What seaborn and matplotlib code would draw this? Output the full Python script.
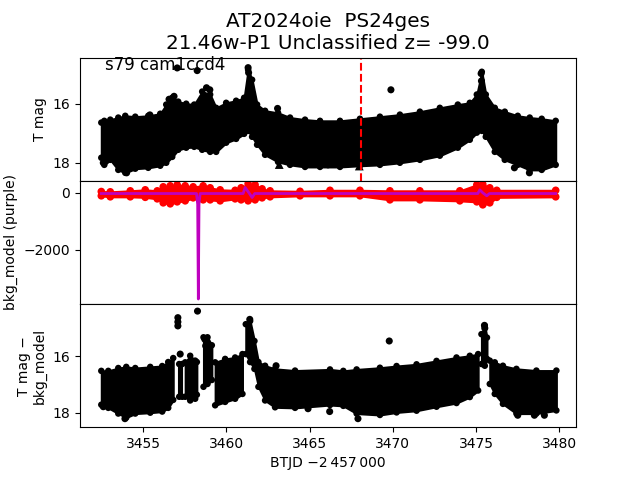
import matplotlib
matplotlib.use('Agg')
import matplotlib.pyplot as plt
import seaborn as sns

# ---- top panel: T mag envelope (time, bright edge, faint edge) ----
t_top = [3452.48, 3452.66, 3453.02, 3453.50, 3453.92, 3454.52, 3455.30, 3456.02,
         3456.38, 3456.74, 3457.10, 3457.58, 3458.06, 3458.54, 3459.02, 3459.38,
         3459.98, 3460.58, 3461.06, 3461.30, 3461.54, 3461.84, 3462.32, 3463.10,
         3463.82, 3464.72, 3465.62, 3466.82, 3468.02, 3469.22, 3470.42, 3471.62,
         3472.82, 3473.90, 3474.62, 3475.04, 3475.34, 3475.58, 3476.12, 3476.72,
         3477.50, 3478.22, 3478.94, 3479.78]
top_up = [16.64, 16.58, 16.54, 16.47, 16.41, 16.44, 16.41, 16.34,
          16.03, 15.80, 15.93, 16.00, 16.03, 15.59, 15.69, 16.14,
          15.97, 15.90, 15.80, 14.85, 15.19, 16.03, 16.24, 16.31,
          16.47, 16.54, 16.58, 16.58, 16.51, 16.44, 16.37, 16.27,
          16.14, 16.03, 15.97, 15.69, 14.92, 15.69, 16.14, 16.27,
          16.41, 16.47, 16.51, 16.58]
top_lo = [17.83, 18.07, 17.90, 18.24, 18.34, 18.20, 18.17, 18.10,
          18.00, 17.80, 17.56, 17.49, 17.46, 17.56, 17.63, 17.63,
          17.32, 17.19, 17.02, 16.92, 17.12, 17.39, 17.73, 17.97,
          18.07, 18.14, 18.14, 18.14, 18.10, 18.07, 18.00, 17.90,
          17.76, 17.49, 17.22, 16.98, 16.92, 17.12, 17.63, 17.90,
          18.07, 18.24, 18.24, 18.07]
# isolated points
t_top_pts = [3457.04, 3458.24, 3455.40, 3463.07, 3469.88, 3461.30, 3461.33,
             3475.30, 3475.32, 3475.36, 3458.80, 3459.00, 3452.60, 3454.00,
             3466.10, 3477.30, 3478.20, 3456.55, 3456.85]
m_top_pts = [14.79, 14.88, 16.38, 16.16, 15.53, 14.78, 14.95,
             14.98, 15.23, 15.56, 15.46, 15.53, 18.00, 18.34,
             18.07, 18.17, 18.34, 15.85, 15.75]
t_top_tri = [3463.17, 3467.98]
m_top_tri = [18.06, 18.11]
t_event = 3468.08

# ---- middle panel: bkg (red band) and bkg_model (purple) ----
t_bkg = [3452.48, 3453.02, 3454.22, 3455.12, 3455.84, 3456.20, 3456.62, 3457.04,
         3457.52, 3458.00, 3458.60, 3459.02, 3459.62, 3460.52, 3460.88, 3461.30,
         3461.72, 3462.14, 3462.62, 3464.42, 3466.22, 3468.02, 3469.82, 3471.62,
         3474.02, 3475.04, 3475.40, 3475.82, 3476.24, 3479.78]
bkg_up = [46, 35, 70, 105, 70, 211, 246, 281,
          246, 211, 246, 176, 105, 88, 176, 316,
          281, 140, 70, 53, 88, 88, 70, 70,
          70, 281, 298, 176, 88, 88]
bkg_lo = [-105, -140, -140, -158, -211, -351, -386, -316,
          -281, -176, -246, -246, -281, -211, -246, -281,
          -246, -176, -140, -105, -105, -105, -246, -246,
          -281, -316, -421, -351, -158, -140]
t_model = [3452.48, 3458.20, 3458.27, 3458.31, 3458.35, 3458.42, 3461.00, 3461.12,
           3461.35, 3461.54, 3461.70, 3475.10, 3475.22, 3475.40, 3475.64, 3475.80,
           3479.78]
bkg_model = [-25, -25, -400, -3720, -400, -25, -25, 186,
             0, -165, -25, -25, 105, 0, -105, -25,
             -25]

# ---- bottom panel: T mag - bkg_model, segments separated by gaps ----
seg_t = [
    [3452.48, 3452.90, 3453.50, 3453.98, 3454.52, 3455.42, 3456.14, 3456.50, 3456.80],
    [3457.16, 3457.34],
    [3457.52, 3457.82, 3458.12, 3458.22],
    [3458.62, 3458.86, 3459.12],
    [3459.32, 3459.92, 3460.52, 3460.96],
    [3461.16, 3461.42, 3461.68, 3461.92, 3462.32, 3462.92, 3464.12, 3466.22,
     3467.02, 3467.82, 3469.22, 3470.22, 3471.42, 3472.62, 3473.82, 3474.62, 3475.12],
    [3475.32, 3475.52, 3475.65],
    [3475.82, 3476.12, 3476.61, 3477.42, 3478.62, 3479.82],
]
seg_up = [
    [16.52, 16.52, 16.42, 16.38, 16.42, 16.38, 16.35, 16.21, 16.07],
    [16.28, 16.28],
    [16.22, 15.99, 16.16, 16.21],
    [15.34, 15.34, 15.62],
    [16.22, 16.10, 16.05, 15.93],
    [14.88, 14.77, 15.47, 16.21, 16.34, 16.45, 16.51, 16.47,
     16.52, 16.47, 16.41, 16.35, 16.29, 16.17, 16.05, 15.99, 15.93],
    [15.23, 14.94, 15.35],
    [16.16, 16.22, 16.34, 16.45, 16.51, 16.51],
]
seg_lo = [
    [17.71, 17.82, 18.02, 18.16, 18.02, 17.99, 17.95, 17.82, 17.54],
    [17.43, 17.43],
    [17.43, 17.56, 17.50, 17.36],
    [17.08, 16.98, 16.84],
    [17.73, 17.61, 17.50, 17.33],
    [15.93, 16.21, 16.45, 17.08, 17.56, 17.80, 17.82, 17.72,
     17.75, 18.02, 18.07, 17.98, 17.92, 17.78, 17.65, 17.44, 17.21],
    [16.28, 16.34, 16.10],
    [16.98, 17.33, 17.68, 18.02, 18.02, 17.91],
]
t_bot_pts = [3457.08, 3457.08, 3457.08, 3458.26, 3461.40, 3462.98, 3469.78,
             3475.52, 3475.50, 3458.70, 3458.75, 3457.22, 3452.60, 3453.90,
             3464.90, 3466.20, 3467.90, 3477.50, 3478.50, 3479.10]
m_bot_pts = [14.65, 14.80, 14.94, 14.42, 14.71, 16.34, 15.47,
             15.02, 14.92, 15.41, 15.64, 15.93, 17.78, 18.20,
             17.85, 17.95, 18.20, 18.08, 18.08, 18.08]

title = 'AT2024oie  PS24ges\n21.46w-P1 Unclassified z= -99.0'

fig, (ax1, ax2, ax3) = plt.subplots(3, 1, sharex=True, figsize=(6.4, 4.8))
fig.subplots_adjust(hspace=0)

# top panel
ax1.fill_between(t_top, top_up, top_lo, color='k', lw=1.5)
sns.scatterplot(x=t_top + t_top, y=top_up + top_lo, color='k', s=22,
                edgecolor='none', ax=ax1)
sns.scatterplot(x=t_top_pts, y=m_top_pts, color='k', s=26, edgecolor='none', ax=ax1)
sns.scatterplot(x=t_top_tri, y=m_top_tri, color='k', marker='^', s=40,
                edgecolor='none', ax=ax1)
ax1.axvline(t_event, color='r', ls='--', lw=1.5)
ax1.set_ylim(18.61, 14.44)
ax1.set_yticks([16, 18])
ax1.set_ylabel('T mag')
ax1.set_title(title, fontsize='x-large')
ax1.text(0.05, 0.9, 's79 cam1ccd4', transform=ax1.transAxes, fontsize=12)

# middle panel
ax2.fill_between(t_bkg, bkg_up, bkg_lo, color='r', lw=1.5)
sns.scatterplot(x=t_bkg + t_bkg, y=bkg_up + bkg_lo, color='r', s=30,
                edgecolor='none', ax=ax2)
sns.lineplot(x=t_model, y=bkg_model, color='m', lw=2, sort=False,
             estimator=None, ax=ax2)
ax2.set_ylim(-3895, 421)
ax2.set_yticks([0, -2000])
ax2.set_ylabel('bkg_model (purple)')
ax2.yaxis.set_label_coords(-0.125, 0.5)

# bottom panel
for ts, up, lo in zip(seg_t, seg_up, seg_lo):
    ax3.fill_between(ts, up, lo, color='k', lw=1.5)
    sns.scatterplot(x=ts + ts, y=up + lo, color='k', s=22, edgecolor='none', ax=ax3)
sns.scatterplot(x=t_bot_pts, y=m_bot_pts, color='k', s=26, edgecolor='none', ax=ax3)
ax3.set_ylim(18.5, 14.17)
ax3.set_yticks([16, 18])
ax3.set_ylabel('T mag \u2212\nbkg_model')

ax3.set_xlim(3451.2, 3481.0)
ax3.set_xlabel('BTJD \u22122\u2009457\u2009000')
ax1.set_xlabel('')
ax2.set_xlabel('')

plt.savefig('out.png', dpi=100)
plt.close()
